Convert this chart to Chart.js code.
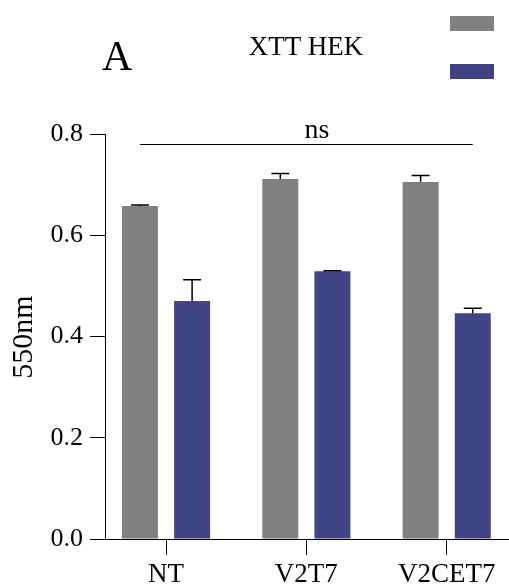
<!DOCTYPE html>
<html>
<head>
<meta charset="utf-8">
<script src="https://cdn.jsdelivr.net/npm/chart.js@4"></script>
<style>
  html, body { margin: 0; padding: 0; background: #fff; font-family: "Liberation Serif", serif; }
  #wrap { width: 509px; height: 586px; }
</style>
</head>
<body>
<div id="wrap"><canvas id="chart" width="509" height="586"></canvas></div>
<script>
// ==== Data ====
const categories = ["NT", "V2T7", "V2CET7"];
const xPos = [0, 1, 2];
const grayValues = [0.658, 0.711, 0.705];
const grayErrors = [0.002, 0.011, 0.013];
const blueValues = [0.470, 0.529, 0.446];
const blueErrors = [0.042, 0.001, 0.010];
const yTicks = [0, 0.2, 0.4, 0.6, 0.8];
const nsLevel = 0.78;

const serif = "\"Liberation Serif\", \"Times New Roman\", Times, serif";
const GRAY = "#808080";
const BLUE = "#404385";

const errors = [grayErrors, blueErrors];

// ==== Plugins ====
const errorBars = {
  id: "errorBars",
  afterDatasetsDraw(chart) {
    const ctx = chart.ctx;
    const y = chart.scales.y;
    ctx.save();
    ctx.strokeStyle = "#000";
    ctx.lineWidth = 1.5;
    chart.data.datasets.forEach((ds, di) => {
      const meta = chart.getDatasetMeta(di);
      meta.data.forEach((bar, i) => {
        const top = y.getPixelForValue(ds.data[i].y + errors[di][i]);
        ctx.beginPath();
        ctx.moveTo(bar.x, bar.y);
        ctx.lineTo(bar.x, top);
        ctx.moveTo(bar.x - 9, top);
        ctx.lineTo(bar.x + 9, top);
        ctx.stroke();
      });
    });
    ctx.restore();
  }
};

const decorations = {
  id: "decorations",
  afterDraw(chart) {
    const ctx = chart.ctx;
    const y = chart.scales.y;
    ctx.save();
    ctx.fillStyle = "#000";

    // panel letter + title
    ctx.font = "42px " + serif;
    ctx.textAlign = "left";
    ctx.textBaseline = "alphabetic";
    ctx.fillText("A", 102, 70);
    ctx.font = "27px " + serif;
    ctx.textAlign = "center";
    ctx.fillText("XTT HEK", 306, 55);

    // y axis title
    ctx.save();
    ctx.translate(32, 337);
    ctx.rotate(-Math.PI / 2);
    ctx.font = "30px " + serif;
    ctx.textAlign = "center";
    ctx.fillText("550nm", 0, 0);
    ctx.restore();

    // legend boxes (no text)
    chart.data.datasets.forEach((ds, di) => {
      ctx.fillStyle = ds.backgroundColor;
      ctx.fillRect(450, 16 + di * 48, 44, 15);
    });

    // ns bracket
    const first = chart.getDatasetMeta(0).data[0];
    const last = chart.getDatasetMeta(1).data[2];
    const ly = Math.round(y.getPixelForValue(nsLevel)) + 0.5;
    ctx.strokeStyle = "#000";
    ctx.lineWidth = 1;
    ctx.beginPath();
    ctx.moveTo(first.x, ly);
    ctx.lineTo(last.x, ly);
    ctx.stroke();
    ctx.fillStyle = "#000";
    ctx.font = "28px " + serif;
    ctx.textAlign = "center";
    ctx.fillText("ns", 317, ly - 7);
    ctx.restore();
  }
};

Chart.defaults.font.family = serif;

// ==== Chart ====
new Chart(document.getElementById("chart"), {
  type: "bar",
  data: {
    datasets: [
      {
        label: "gray",
        data: xPos.map((x, i) => ({ x, y: grayValues[i] })),
        backgroundColor: GRAY
      },
      {
        label: "blue",
        data: xPos.map((x, i) => ({ x, y: blueValues[i] })),
        backgroundColor: BLUE
      }
    ]
  },
  options: {
    responsive: false,
    animation: false,
    categoryPercentage: 0.743,
    barPercentage: 0.69,
    layout: { padding: { top: 134, right: 0, left: 0, bottom: 0 } },
    plugins: {
      legend: { display: false },
      tooltip: { enabled: false }
    },
    scales: {
      x: {
        type: "linear",
        offset: false,
        min: -0.435,
        max: 2.444,
        afterBuildTicks: (axis) => {
          axis.ticks = xPos.map((v) => ({ value: v }));
        },
        afterFit: (axis) => { axis.height = 47; },
        border: { color: "#000", width: 1 },
        grid: { offset: false, drawOnChartArea: false, tickLength: 16, color: "#000", lineWidth: 1 },
        ticks: {
          color: "#000",
          padding: 4,
          maxRotation: 0,
          font: { family: serif, size: 27 },
          callback: (v) => categories[v] || ""
        }
      },
      y: {
        min: 0,
        max: 0.8,
        afterBuildTicks: (axis) => {
          axis.ticks = yTicks.map((v) => ({ value: v }));
        },
        afterFit: (axis) => { axis.width = 105; },
        border: { color: "#000", width: 1 },
        grid: { drawOnChartArea: false, tickLength: 15, color: "#000", lineWidth: 1 },
        ticks: {
          color: "#000",
          padding: 7,
          font: { family: serif, size: 26 },
          callback: (v) => v.toFixed(1)
        }
      }
    }
  },
  plugins: [errorBars, decorations]
});
</script>
</body>
</html>
